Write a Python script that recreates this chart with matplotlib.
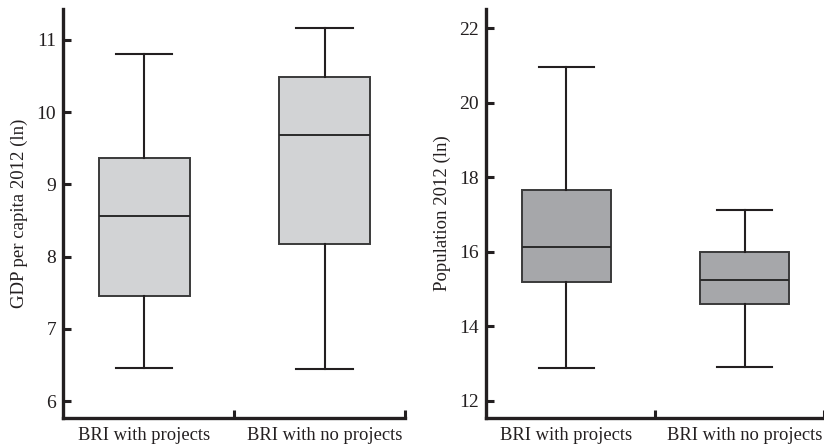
import matplotlib
matplotlib.use("Agg")
import matplotlib.pyplot as plt

plt.rcParams['font.family'] = ['Liberation Serif', 'DejaVu Serif']

groups = ['BRI with projects', 'BRI with no projects']

# five-number summaries: low whisker, q1, median, q3, high whisker
gdp_low = [6.46, 6.45]
gdp_q1 = [7.46, 8.17]
gdp_med = [8.56, 9.68]
gdp_q3 = [9.37, 10.49]
gdp_high = [10.81, 11.17]

pop_low = [12.88, 12.91]
pop_q1 = [15.19, 14.59]
pop_med = [16.13, 15.25]
pop_q3 = [17.65, 15.99]
pop_high = [20.97, 17.12]

ink = '#231f20'


def stats(low, q1, med, q3, high):
    return [dict(whislo=a, q1=b, med=c, q3=d, whishi=e, fliers=[], label=g)
            for a, b, c, d, e, g in zip(low, q1, med, q3, high, groups)]


def draw(ax, st, fill, ylim, yticks, ylabel, xmax):
    pos = [0.475, 1.53]
    ax.bxp(st, positions=pos, widths=0.53, patch_artist=True, showfliers=False,
           boxprops=dict(facecolor=fill, edgecolor='#3a3a3a', linewidth=1.4),
           medianprops=dict(color='#2a2a2a', linewidth=1.4),
           whiskerprops=dict(color=ink, linewidth=1.5),
           capprops=dict(color=ink, linewidth=1.5),
           capwidths=0.33)
    ax.set_xlim(0, xmax)
    ax.set_ylim(*ylim)
    ax.set_yticks(yticks)
    ax.set_xticks([1, 2])
    ax.set_xticklabels([])
    ax.set_xticks(pos, minor=True)
    ax.set_xticklabels(groups, minor=True)
    ax.tick_params(axis='x', which='minor', length=0, pad=6.5, labelsize=13.3,
                   labelcolor=ink)
    ax.tick_params(axis='x', which='major', direction='in', length=6, width=2.2,
                   color=ink)
    ax.tick_params(axis='y', direction='in', length=6, width=2.2, color=ink,
                   labelsize=14, labelcolor=ink, pad=5)
    ax.set_ylabel(ylabel, fontsize=13.5, color=ink, labelpad=6)
    for s in ['top', 'right']:
        ax.spines[s].set_visible(False)
    for s in ['left', 'bottom']:
        ax.spines[s].set_linewidth(2.4)
        ax.spines[s].set_color(ink)


fig = plt.figure(figsize=(8.24, 4.45), dpi=100)
ax1 = fig.add_axes([0.0765, 0.0613, 0.415, 0.9174])
ax2 = fig.add_axes([0.590, 0.0613, 0.41, 0.9174])

draw(ax1, stats(gdp_low, gdp_q1, gdp_med, gdp_q3, gdp_high), '#d2d3d5',
     (5.77, 11.42), range(6, 12), 'GDP per capita 2012 (ln)', 2.0)
draw(ax2, stats(pop_low, pop_q1, pop_med, pop_q3, pop_high), '#a6a7aa',
     (11.55, 22.5), range(12, 23, 2), 'Population 2012 (ln)', 1.975)

fig.savefig('out.png', dpi=100, facecolor='white')
